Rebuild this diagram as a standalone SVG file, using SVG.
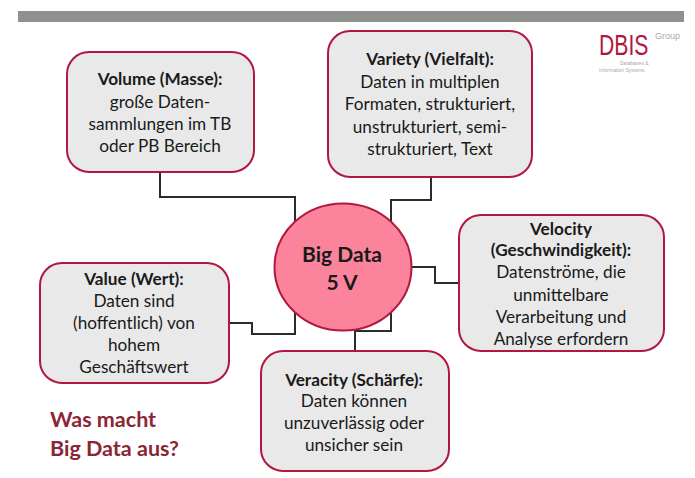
<svg xmlns="http://www.w3.org/2000/svg" width="695" height="478" viewBox="0 0 695 478">
<style>
text{font-family:"Lato","Open Sans","Liberation Sans",sans-serif;text-anchor:middle;fill:#1a1a1a;font-size:17.2px}
.b{font-weight:700}
.box{fill:#e9e9e9;stroke:#b2173f;stroke-width:2}
.c{fill:none;stroke:#2b2b2b;stroke-width:2}
.l{font-family:"Liberation Sans",sans-serif;text-anchor:start;fill:#a9a9a9}
.cap{text-anchor:start;font-size:21.5px;fill:#8b2635}
</style>
<rect x="18" y="11" width="666" height="11" fill="#8f928c"/>
<g id="connectors">
<path class="c" d="M160 172V197H295V222"/>
<path class="c" d="M431 177V200H391V224"/>
<path class="c" d="M411 267H435V283H459"/>
<path class="c" d="M229 323H252V334H295V312"/>
<path class="c" d="M355 351V331H391V311"/>
</g>
<g id="logo">
<text class="l" transform="translate(599 55) scale(.73 1)" style="font-size:29px;fill:#b2173f">DBIS</text>
<text class="l" x="655" y="39" style="font-size:9px">Group</text>
<text class="l" x="620" y="65" style="font-size:5px">Databases &amp;</text>
<text class="l" x="599" y="72" style="font-size:5px">Information Systems</text>
</g>
<g id="volume">
<rect class="box" x="67" y="52" width="187" height="120" rx="22"/>
<text class="b" x="160" y="85">Volume (Masse):</text>
<text x="160" y="108">große Daten-</text>
<text x="160" y="130">sammlungen im TB</text>
<text x="160" y="152">oder PB Bereich</text>
</g>
<g id="variety">
<rect class="box" x="328" y="31" width="204" height="146" rx="22"/>
<text class="b" x="430" y="65">Variety (Vielfalt):</text>
<text x="430" y="88">Daten in multiplen</text>
<text x="430" y="110">Formaten, strukturiert,</text>
<text x="430" y="133">unstrukturiert, semi-</text>
<text x="430" y="155">strukturiert, Text</text>
</g>
<g id="velocity">
<rect class="box" x="459" y="215" width="205" height="136" rx="22"/>
<text class="b" x="561" y="235">Velocity</text>
<text class="b" x="561" y="256">(Geschwindigkeit):</text>
<text x="561" y="278">Datenströme, die</text>
<text x="561" y="301">unmittelbare</text>
<text x="561" y="323">Verarbeitung und</text>
<text x="561" y="345">Analyse erfordern</text>
</g>
<g id="value">
<rect class="box" x="40" y="263" width="189" height="120" rx="22"/>
<text class="b" x="134" y="285">Value (Wert):</text>
<text x="134" y="307">Daten sind</text>
<text x="134" y="329">(hoffentlich) von</text>
<text x="134" y="351">hohem</text>
<text x="134" y="373">Geschäftswert</text>
</g>
<g id="veracity">
<rect class="box" x="261" y="351" width="188" height="120" rx="22"/>
<text class="b" x="354" y="386">Veracity (Schärfe):</text>
<text x="354" y="407">Daten können</text>
<text x="354" y="429">unzuverlässig oder</text>
<text x="354" y="451">unsicher sein</text>
</g>
<g id="bigdata">
<ellipse cx="343" cy="267" rx="68.5" ry="63.5" fill="#fb849c" stroke="#b2173f" stroke-width="2"/>
<text class="b" x="342" y="262" style="font-size:21px">Big Data</text>
<text class="b" x="342" y="290" style="font-size:21px">5 V</text>
</g>
<g id="caption">
<text class="b cap" x="50" y="427">Was macht</text>
<text class="b cap" x="50" y="456">Big Data aus?</text>
</g>
</svg>
